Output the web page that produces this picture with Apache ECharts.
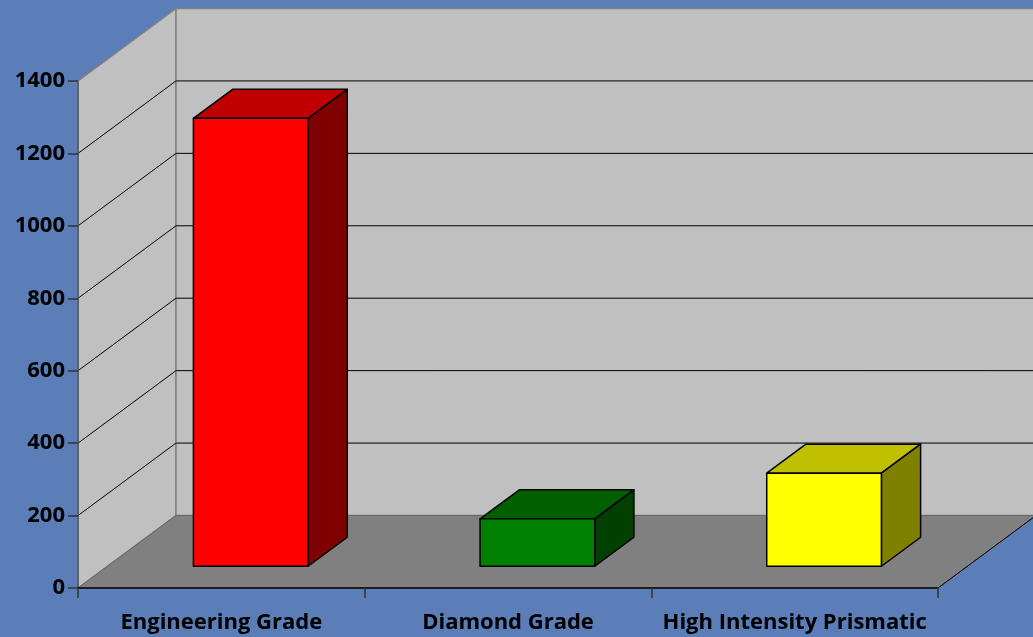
<!DOCTYPE html>
<html>
<head>
<meta charset="utf-8">
<script src="https://cdn.jsdelivr.net/npm/echarts@6/dist/echarts.min.js"></script>
<style>
html,body{margin:0;padding:0;background:#5b7db8;}
#chart{width:1033px;height:637px;}
</style>
</head>
<body>
<div id="chart"></div>
<script>
// ---- data ----
const categories = ['Engineering Grade', 'Diamond Grade', 'High Intensity Prismatic'];
const values = [1237, 131, 257];
const yMin = 0, yMax = 1400, yInterval = 200;
const frontColors = ['#FF0000', '#008000', '#FFFF00'];
const topColors = ['#C00000', '#006000', '#C0C000'];
const sideColors = ['#800000', '#004000', '#808000'];

// ---- 3D look (styling) ----
const DX = 98, DY = 72.5;          // full depth offset in px
const BAR_D0 = 0.30, BAR_D1 = 0.70; // bar depth range (fraction)
const BAR_W = 0.40;                 // bar width fraction of band
const FONT = '"Open Sans", Lato, sans-serif';

const chart = echarts.init(document.getElementById('chart'));

const gridValues = [];
for (let v = yMin + yInterval; v <= yMax; v += yInterval) gridValues.push(v);

function renderWalls(params, api) {
  const cs = params.coordSys;
  const left = cs.x, right = cs.x + cs.width, top = cs.y, bottom = cs.y + cs.height;
  const children = [];
  children.push({ type: 'polygon', shape: { points: [[left, bottom], [left + DX, bottom - DY], [left + DX, top - DY], [left, top]] },
    style: { fill: '#C0C0C0', stroke: '#808080', lineWidth: 1.5 } });
  children.push({ type: 'polygon', shape: { points: [[left + DX, top - DY], [right + DX + 10, top - DY], [right + DX + 10, bottom - DY], [left + DX, bottom - DY]] },
    style: { fill: '#C0C0C0', stroke: '#808080', lineWidth: 1.5 } });
  gridValues.forEach(v => {
    const y = api.coord([0, v])[1];
    const isTop = v === yMax;
    if (!isTop) {
      children.push({ type: 'line', shape: { x1: left, y1: y, x2: left + DX, y2: y - DY }, style: { stroke: '#000', lineWidth: 1 } });
    }
    children.push({ type: 'line', shape: { x1: left + DX, y1: y - DY, x2: right + DX + 10, y2: y - DY },
      style: { stroke: isTop ? '#808080' : '#000', lineWidth: 1 } });
  });
  children.push({ type: 'polygon', shape: { points: [[left, bottom], [right, bottom], [right + DX, bottom - DY], [left + DX, bottom - DY]] },
    style: { fill: '#808080', stroke: '#666', lineWidth: 1 } });
  children.push({ type: 'line', shape: { x1: right, y1: bottom, x2: right + DX, y2: bottom - DY }, style: { stroke: '#000', lineWidth: 1 } });
  return { type: 'group', children: children };
}

function renderBar(params, api) {
  const i = api.value(0);
  const v = api.value(1);
  const band = api.size([1, 0])[0];
  const w = band * BAR_W;
  const c = api.coord([i, 0]);
  const t = api.coord([i, v]);
  const ox0 = DX * BAR_D0, oy0 = DY * BAR_D0;
  const ox1 = DX * BAR_D1, oy1 = DY * BAR_D1;
  const xl = c[0] - w / 2 + ox0, xr = c[0] + w / 2 + ox0;
  const yb = c[1] - oy0, yt = t[1] - oy0;
  const bdx = ox1 - ox0, bdy = oy1 - oy0;
  const stroke = { stroke: '#000', lineWidth: 1.5, lineJoin: 'round' };
  return { type: 'group', children: [
    { type: 'polygon', shape: { points: [[xl, yt], [xl + bdx, yt - bdy], [xr + bdx, yt - bdy], [xr, yt]] },
      style: Object.assign({ fill: topColors[i] }, stroke) },
    { type: 'polygon', shape: { points: [[xr, yt], [xr + bdx, yt - bdy], [xr + bdx, yb - bdy], [xr, yb]] },
      style: Object.assign({ fill: sideColors[i] }, stroke) },
    { type: 'polygon', shape: { points: [[xl, yt], [xr, yt], [xr, yb], [xl, yb]] },
      style: Object.assign({ fill: frontColors[i] }, stroke) }
  ] };
}

chart.setOption({
  backgroundColor: '#5b7db8',
  animation: false,
  grid: { left: 78, right: 95, top: 81, bottom: 49 },
  xAxis: {
    type: 'category', data: categories, boundaryGap: true,
    axisLine: { show: true, lineStyle: { color: '#000', width: 1.5 } },
    axisTick: { show: true, length: 10, lineStyle: { color: '#333', width: 1.5 } },
    axisLabel: { interval: 0, fontFamily: FONT, fontWeight: 'bold', fontSize: 22, color: '#000', margin: 24 },
    z: 10
  },
  yAxis: {
    type: 'value', min: yMin, max: yMax, interval: yInterval,
    axisLine: { show: true, lineStyle: { color: '#555', width: 1.5 } },
    axisTick: { show: true, length: 10, lineStyle: { color: '#333', width: 1.5 } },
    axisLabel: { fontFamily: FONT, fontWeight: 'bold', fontSize: 22, color: '#000', margin: 13,
      formatter: v => String(v) },
    splitLine: { show: false },
    z: 10
  },
  series: [
    { type: 'custom', renderItem: renderWalls, data: [[0, 0]], silent: true, z: 1, clip: false },
    { type: 'custom', renderItem: renderBar, data: values.map((v, i) => [i, v]), z: 2, clip: false }
  ]
});
</script>
</body>
</html>
